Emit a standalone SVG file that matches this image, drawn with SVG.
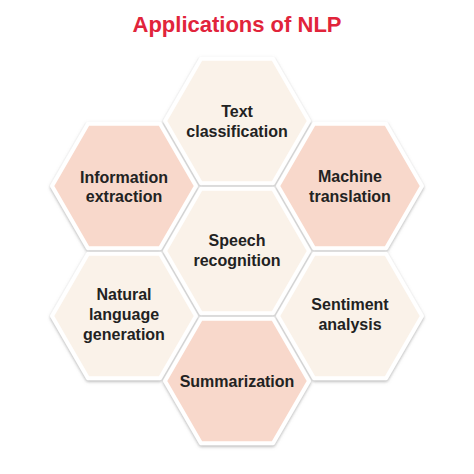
<svg xmlns="http://www.w3.org/2000/svg" xmlns:xlink="http://www.w3.org/1999/xlink" width="474" height="474" viewBox="0 0 474 474">
<style>
.hex{stroke:#ffffff;stroke-width:4;stroke-linejoin:round;filter:url(#sh)}
.cream{fill:#faf2e9}
.pink{fill:#f8d8cb}
.lbl{font-family:"Liberation Sans",Arial,sans-serif;font-weight:bold;font-size:16px;fill:#222222;text-anchor:middle}
.title{font-family:"Liberation Sans",Arial,sans-serif;font-weight:bold;font-size:22px;fill:#e1243b;text-anchor:middle}
</style>
<defs>
<filter id="sh" x="-20%" y="-20%" width="140%" height="140%">
<feDropShadow dx="0" dy="1.5" stdDeviation="1.6" flood-color="#7a7a7a" flood-opacity="0.55"/>
</filter>
<polygon id="hx" points="-72,0 -36,-62.35 36,-62.35 72,0 36,62.35 -36,62.35"/>
</defs>
<rect width="474" height="474" fill="#ffffff"/>
<text class="title" x="237" y="32">Applications of NLP</text>
<g id="connectors"/>
<g id="text-classification">
<use href="#hx" x="237" y="121" class="hex cream"/>
<text class="lbl" x="237" y="117">Text</text>
<text class="lbl" x="237" y="137">classification</text>
</g>
<g id="information-extraction">
<use href="#hx" x="124" y="186" class="hex pink"/>
<text class="lbl" x="124" y="183">Information</text>
<text class="lbl" x="124" y="202">extraction</text>
</g>
<g id="machine-translation">
<use href="#hx" x="350" y="186" class="hex pink"/>
<text class="lbl" x="350" y="182">Machine</text>
<text class="lbl" x="350" y="202">translation</text>
</g>
<g id="speech-recognition">
<use href="#hx" x="237" y="251" class="hex cream"/>
<text class="lbl" x="237" y="246">Speech</text>
<text class="lbl" x="237" y="266">recognition</text>
</g>
<g id="natural-language-generation">
<use href="#hx" x="124" y="316" class="hex cream"/>
<text class="lbl" x="124" y="300">Natural</text>
<text class="lbl" x="124" y="320">language</text>
<text class="lbl" x="124" y="340">generation</text>
</g>
<g id="sentiment-analysis">
<use href="#hx" x="350" y="316" class="hex cream"/>
<text class="lbl" x="350" y="310">Sentiment</text>
<text class="lbl" x="350" y="330">analysis</text>
</g>
<g id="summarization">
<use href="#hx" x="237" y="381" class="hex pink"/>
<text class="lbl" x="237" y="387">Summarization</text>
</g>
</svg>
